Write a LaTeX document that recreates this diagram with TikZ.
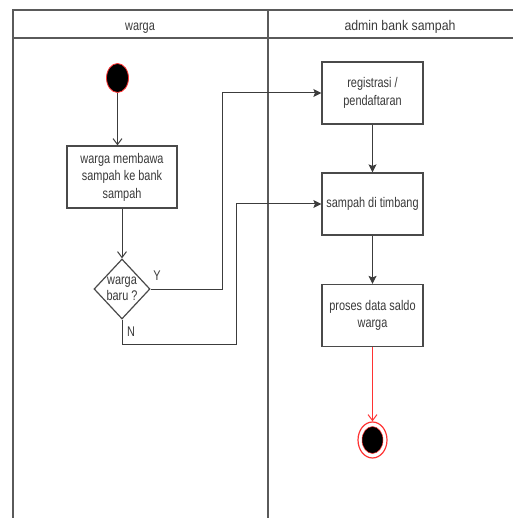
\documentclass[tikz,border=0pt]{standalone}
\usepackage{fontspec}
\setmainfont{Liberation Sans}[FakeStretch=0.78]
\usetikzlibrary{arrows.meta,shapes.geometric}
\definecolor{frame}{HTML}{5A5A5A}
\definecolor{txt}{HTML}{3A3A3A}
\definecolor{ln}{HTML}{3C3C3C}
\definecolor{bx}{HTML}{4A4A4A}
\definecolor{rd}{HTML}{FF3333}
\tikzset{
  actbox/.style={draw=bx, line width=1.2pt, fill=white, minimum width=101pt, minimum height=62pt, align=center, inner sep=2pt, text=txt, font=\fontsize{14}{17.5}\selectfont},
  flow/.style={draw=ln, line width=1pt},
  openarr/.style={-{Straight Barb[length=6pt,width=9pt,line width=1pt]}},
  fillarr/.style={-{Stealth[length=8pt,width=8pt,inset=1.5pt]}},
  lbl/.style={text=txt, font=\fontsize{14}{17}\selectfont, inner sep=0pt},
  lanefr/.style={draw=frame, line width=1.8pt},
}
\begin{document}
\begin{tikzpicture}[x=1pt,y=-1pt]
\useasboundingbox (0,0) rectangle (513,518);
% swimlane frame
\draw[lanefr] (13,518) -- (13,10) -- (513,10);
\draw[lanefr] (13,38) -- (513,38);
\draw[lanefr] (268,10) -- (268,518);
\node[lbl, anchor=base] (h1) at (140,30.5) {warga};
\node[lbl, anchor=base] (h2) at (400,30.5) {\addfontfeature{FakeStretch=0.88}admin bank sampah};
% start
\node[ellipse, fill=black, draw=rd, line width=0.8pt, minimum width=22pt, minimum height=29pt, inner sep=0pt] (start) at (117.5,78) {};
% actions
\node[actbox, minimum width=110pt] (bawa) at (122,177) {warga membawa\\sampah ke bank\\sampah};
\node[diamond, draw=bx, line width=1.2pt, fill=white, minimum width=56pt, minimum height=60pt, inner sep=0pt] (dia) at (122,289) {};
\node[lbl, align=center, font=\fontsize{14}{16.5}\selectfont] (diat) at (122,289) {warga\\baru ?};
\node[actbox] (reg) at (372.5,93) {registrasi /\\pendaftaran};
\node[actbox] (timb) at (372.5,204) {sampah di timbang};
\node[actbox] (proses) at (372.5,315.5) {proses data saldo\\warga};
% end
\node[ellipse, draw=rd, line width=1.2pt, fill=white, minimum width=29pt, minimum height=36pt, inner sep=0pt] (end) at (372.5,440) {};
\node[ellipse, fill=black, draw=rd, line width=0.5pt, minimum width=21pt, minimum height=27pt, inner sep=0pt] (endin) at (372.5,440) {};
% connectors
\coordinate (yc) at (222,93);
\coordinate (nc) at (236,344);
\draw[flow, openarr] (start) -- (start |- bawa.north);
\draw[flow, openarr] (bawa) -- (dia);
\draw[flow, fillarr] (dia.east) -| (yc) -- (reg.west);
\draw[flow, fillarr] (dia.south) |- (nc) |- (timb.west);
\draw[flow, fillarr] (reg) -- (timb);
\draw[flow, fillarr] (timb) -- (proses);
\draw[draw=rd, line width=1.1pt, openarr] (proses) -- (end);
\node[lbl] (ylab) at (157,276) {Y};
\node[lbl] (nlab) at (131,332) {N};
\end{tikzpicture}
\end{document}
